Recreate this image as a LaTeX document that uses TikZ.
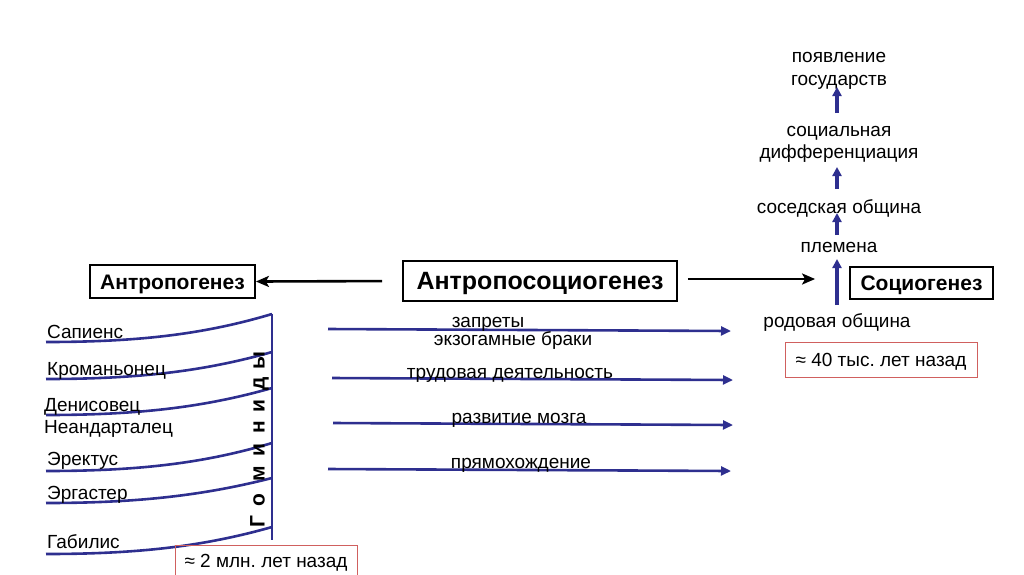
\documentclass[tikz,border=0pt]{standalone}
\usepackage{fontspec}
\setmainfont{Liberation Sans}
\usetikzlibrary{arrows.meta}
\definecolor{navy}{HTML}{2E2F8F}
\definecolor{redline}{HTML}{D0605E}
\frenchspacing
\begin{document}
\begin{tikzpicture}[x=1pt,y=-1pt,
  txt/.style={inner sep=0pt,font=\fontsize{19}{23}\selectfont},
  ctxt/.style={txt,align=center},
  titlebox/.style={draw=black,line width=1.8pt,inner sep=0pt,text height=15pt,text depth=0pt,font=\bfseries\fontsize{21}{24}\selectfont},
  redbox/.style={draw=redline,line width=0.9pt,inner sep=0pt,minimum height=33pt,text height=13.6pt,text depth=0pt,font=\frenchspacing\fontsize{19}{23}\selectfont},
  blackarrow/.style={line width=2.6pt,-{Stealth[length=13pt,width=11pt,inset=3pt]}},
  bluearrow/.style={navy,line width=2.6pt,-{Triangle[length=10pt,width=9pt]}},
  upbluearrow/.style={navy,line width=3.4pt,-{Triangle[length=9pt,width=9pt]}},
  curve/.style={navy,line width=2.6pt},
  gletter/.style={inner sep=0pt,rotate=90,font=\bfseries\fontsize{21}{24}\selectfont}
]
\useasboundingbox (0,0) rectangle (1024,574);

% title boxes
\node[titlebox,minimum width=165pt,minimum height=33pt] (ag) at (172.5,281.5) {Антропогенез};
\node[titlebox,minimum width=274pt,minimum height=40pt,text height=17.9pt,font=\bfseries\fontsize{25}{28}\selectfont] (asg) at (540,281) {Антропосоциогенез};
\node[titlebox,minimum width=143pt,minimum height=32pt] (sg) at (921.5,283) {Социогенез};

\draw[blackarrow,shorten <=20pt] (asg.west) -- (ag.east);
\draw[blackarrow,shorten <=10pt,shorten >=34pt] (asg.east|-0,279) -- (sg.west|-0,279);

% right column
\node[ctxt,anchor=base] (pg1) at (839,62) {появление};
\node[ctxt,anchor=base] (pg2) at (839,85) {государств};
\node[ctxt,anchor=base] (sd1) at (839,136) {социальная};
\node[ctxt,anchor=base] (sd2) at (839,158) {дифференциация};
\node[txt,anchor=base] (so) at (839,213) {соседская община};
\node[txt,anchor=base] (pl) at (839,252) {племена};
\node[txt,anchor=base] (ro) at (837,327) {родовая община};
\node[redbox,minimum width=192pt,minimum height=35pt] (t40) at (881,359.5) {≈ 40 тыс. лет назад};

\coordinate (a1s) at (837,113); \coordinate (a1e) at (837,87);
\coordinate (a2s) at (837,189); \coordinate (a2e) at (837,167);
\coordinate (a3s) at (837,235); \coordinate (a3e) at (837,213);
\coordinate (a4s) at (837,305); \coordinate (a4e) at (837,259);
\draw[upbluearrow] (a1s) -- (a1e);
\draw[upbluearrow] (a2s) -- (a2e);
\draw[upbluearrow] (a3s) -- (a3e);
\draw[upbluearrow] (a4s) -- (a4e);

% middle arrows
\coordinate (h1s) at (328,329); \coordinate (h1e) at (731,331);
\coordinate (h2s) at (332,378); \coordinate (h2e) at (733,380);
\coordinate (h3s) at (333,423); \coordinate (h3e) at (733,425);
\coordinate (h4s) at (328,469); \coordinate (h4e) at (731,471);
\draw[bluearrow] (h1s) -- (h1e);
\draw[bluearrow] (h2s) -- (h2e);
\draw[bluearrow] (h3s) -- (h3e);
\draw[bluearrow] (h4s) -- (h4e);
\node[txt,anchor=base] (zp) at (488,327) {запреты};
\node[txt,anchor=base] (eb) at (513,345) {экзогамные браки};
\node[txt,anchor=base] (td) at (510,378) {трудовая деятельность};
\node[txt,anchor=base] (rm) at (519,423) {развитие мозга};
\node[txt,anchor=base] (pr) at (521,468) {прямохождение};

% hominids
\coordinate (vt) at (272,314); \coordinate (vb) at (272,540);
\draw[curve] (vt) -- (vb);
\foreach \n/\yl/\yr in {c1/342/314, c2/379/352, c3/415/388, c4/471/443, c5/503/478, c6/554/527}{
  \coordinate (\n l) at (46,\yl);
  \coordinate (\n r) at (272,\yr);
  \draw[curve] (\n l) .. controls (140,\yl) and (205,\yl-8) .. (\n r);
}
\node[txt,anchor=base west] (h1) at (47,338) {Сапиенс};
\node[txt,anchor=base west] (h2) at (47,375) {Кроманьонец};
\node[txt,anchor=base west] (h3) at (44,411) {Денисовец};
\node[txt,anchor=base west] (h4) at (44,433) {Неандарталец};
\node[txt,anchor=base west] (h5) at (47,465) {Эректус};
\node[txt,anchor=base west] (h6) at (47,499) {Эргастер};
\node[txt,anchor=base west] (h7) at (47,548) {Габилис};

\foreach \i/\l/\y in {1/Г/522, 2/о/500, 3/м/474, 4/и/450, 5/н/427, 6/и/406, 7/д/384, 8/ы/361}{
  \node[gletter,anchor=mid] (g\i) at (262,\y) {\l};
}

\node[redbox,minimum width=182pt,minimum height=32pt] (t2) at (266,561) {≈ 2 млн. лет назад};
\end{tikzpicture}
\end{document}
